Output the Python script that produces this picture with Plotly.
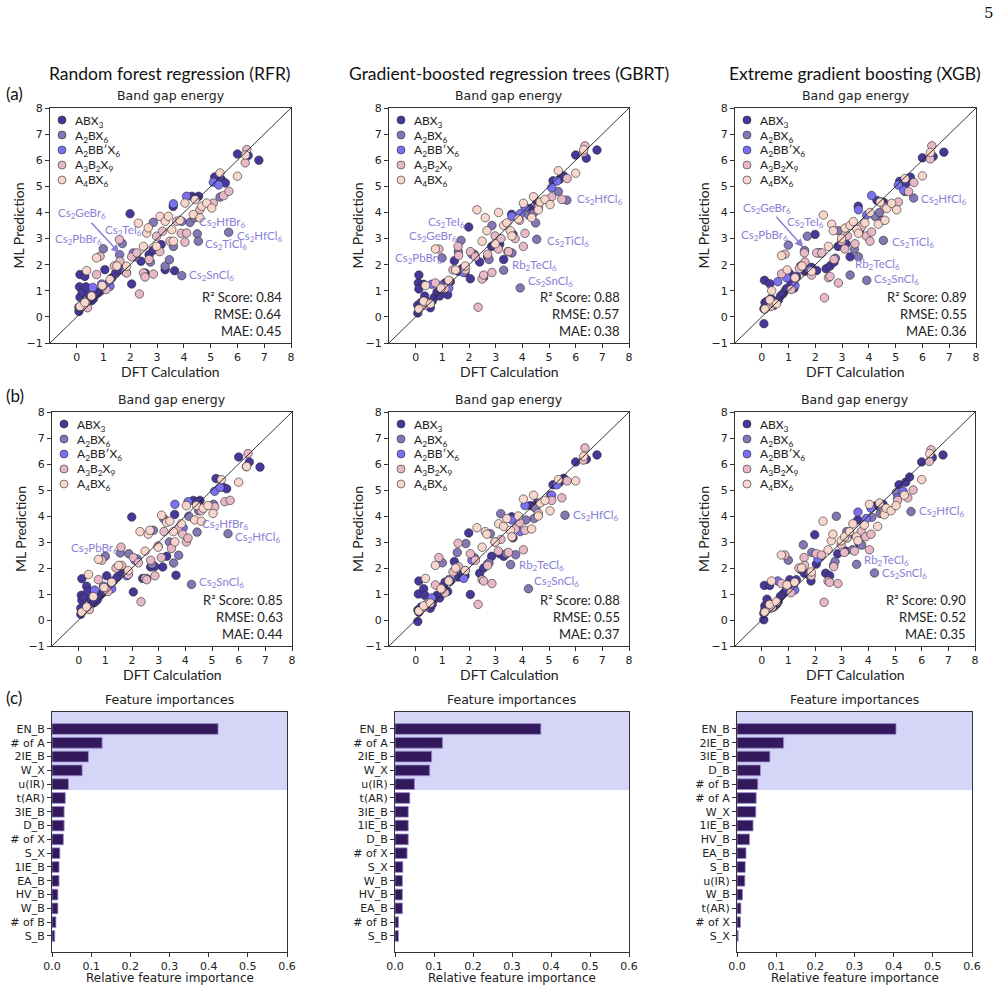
import plotly.graph_objects as go

W, H = 1005, 990

# ---------------- data ----------------
categories = ["ABX<sub>3</sub>", "A<sub>2</sub>BX<sub>6</sub>", "A<sub>2</sub>BB′X<sub>6</sub>",
              "A<sub>3</sub>B<sub>2</sub>X<sub>9</sub>", "A<sub>4</sub>BX<sub>6</sub>"]
cat_colors = ["#48379a", "#8477b6", "#7a70f2", "#e7b9c6", "#f8d6cc"]

model_titles = ["Random forest regression (RFR)", "Gradient-boosted regression trees (GBRT)",
                "Extreme gradient boosting (XGB)"]

# DFT band gaps (shared)
x_abx3 = [0.08, 0.08, 0.10, 0.12, 0.12, 0.20, 0.30, 0.34, 0.45, 0.55, 0.62, 0.70, 0.80, 0.90,
          0.95, 1.05, 1.10, 1.20, 1.30, 1.45, 1.60, 1.75, 1.85, 1.99, 2.05, 2.40, 2.55, 2.70,
          2.85, 3.15, 3.30, 3.65, 4.30, 4.55, 5.15, 5.40, 6.00, 6.80, 3.60, 4.45, 5.55, 6.40]
x_a2bx6_a = [0.99, 1.60, 1.70, 2.86, 3.30, 3.46, 3.61, 3.92, 4.23, 4.50, 4.54, 5.35, 5.67, 2.20, 2.75, 4.40]
x_a2bx6_b = [1.00, 1.56, 1.88, 2.80, 3.19, 3.56, 3.75, 4.23, 4.44, 4.13, 5.06, 5.60, 2.20, 2.75, 4.50, 3.40]
x_a2bbx6 = [0.60, 0.93, 1.24, 1.80, 2.11, 3.61, 3.92, 4.10, 5.10, 5.30]
x_a3b2x9 = [0.34, 0.40, 0.74, 0.87, 1.10, 1.40, 1.59, 1.61, 1.86, 2.05, 2.24, 2.34, 2.49, 2.55,
            2.70, 2.86, 2.98, 3.10, 3.20, 3.48, 3.73, 3.90, 4.04, 4.10, 4.60, 5.10, 5.48, 5.68,
            6.29, 6.35]
x_a4bx6 = [0.12, 0.30, 0.37, 0.55, 0.74, 0.95, 1.24, 1.50, 1.86, 2.30, 2.49, 2.61, 2.67, 2.98,
           3.11, 3.30, 3.42, 3.55, 3.61, 3.85, 4.04, 4.35, 4.42, 4.60, 4.67, 4.85, 5.04, 5.35,
           6.00, 6.30]

# ML predictions, row (a)
y_rfr_a_abx3 = [0.21, 0.37, 1.15, 1.62, 0.75, 0.94, 1.55, 1.15, 0.85, 0.62, 0.69, 0.85, 0.92, 1.00,
                1.11, 1.81, 1.20, 1.30, 1.49, 1.68, 1.81, 1.87, 1.70, 3.95, 1.26, 2.13, 1.68, 2.38,
                2.55, 2.77, 1.81, 1.77, 4.62, 4.62, 5.36, 5.26, 6.24, 6.00, 4.23, 4.55, 5.13, 6.18]
y_rfr_a_a2bx6 = [2.61, 2.38, 2.81, 3.62, 1.94, 2.19, 2.70, 1.58, 3.62, 3.18, 2.90, 4.59, 3.24, 2.30, 2.10, 3.80]
y_rfr_a_a2bbx6 = [1.13, 1.26, 1.17, 1.75, 2.45, 4.33, 3.66, 4.62, 5.16, 5.05]
y_rfr_a_a3b2x9 = [0.53, 0.35, 1.62, 2.32, 1.05, 1.95, 2.96, 2.13, 1.68, 2.30, 2.45, 0.88, 1.68, 1.53,
                  2.20, 1.64, 3.09, 2.50, 3.28, 2.90, 3.66, 3.20, 2.86, 3.21, 4.11, 4.36, 4.64, 4.81,
                  5.90, 6.41]
y_rfr_a_a4bx6 = [0.40, 0.55, 1.77, 0.80, 2.26, 1.20, 1.43, 1.95, 1.94, 3.59, 2.70, 3.21, 3.41, 2.70,
                 3.85, 3.66, 3.85, 3.34, 2.90, 3.70, 4.36, 3.92, 4.49, 3.79, 4.24, 4.36, 4.17, 5.51,
                 5.39, 6.20]

y_gbrt_a_abx3 = [0.15, 0.45, 1.30, 1.60, 1.07, 0.55, 1.25, 0.80, 0.55, 0.35, 0.60, 0.75, 0.95, 0.80,
                 1.05, 1.15, 1.30, 0.85, 1.35, 2.15, 1.75, 1.85, 1.70, 3.44, 1.46, 2.10, 1.52, 2.30,
                 2.70, 2.78, 2.20, 3.16, 4.15, 4.40, 5.21, 5.27, 6.20, 6.39, 3.93, 4.06, 5.40, 6.08]
y_gbrt_a_a2bx6 = [2.26, 2.50, 2.93, 3.50, 1.79, 2.50, 2.45, 1.11, 3.90, 3.60, 2.97, 4.80, 4.47, 2.40, 2.20, 3.95]
y_gbrt_a_a2bbx6 = [1.25, 1.20, 1.10, 1.70, 2.40, 3.85, 3.95, 4.20, 4.95, 5.20]
y_gbrt_a_a3b2x9 = [0.45, 0.55, 1.30, 2.60, 1.10, 1.80, 2.70, 2.35, 1.80, 2.50, 2.30, 0.37, 1.45, 1.60,
                   2.40, 1.70, 3.10, 2.60, 3.00, 2.50, 3.00, 3.70, 2.70, 3.20, 4.20, 4.60, 4.50, 5.30,
                   6.30, 6.55]
y_gbrt_a_a4bx6 = [0.30, 0.60, 1.20, 0.50, 2.60, 1.10, 1.40, 1.80, 1.95, 4.10, 2.90, 3.80, 3.30, 2.80,
                  4.00, 3.50, 3.60, 3.30, 3.10, 3.75, 4.35, 3.80, 4.60, 4.10, 4.40, 4.50, 4.30, 5.60,
                  5.50, 6.40]

y_xgb_a_abx3 = [-0.26, 0.31, 1.40, 0.55, 0.35, 0.60, 1.27, 0.70, 0.45, 0.55, 0.65, 0.80, 0.90, 1.05,
                1.10, 1.65, 1.30, 1.10, 1.55, 1.95, 1.75, 1.80, 1.90, 3.16, 1.78, 1.84, 1.95, 2.10,
                2.70, 2.80, 2.30, 3.31, 4.46, 4.39, 5.19, 5.13, 6.09, 6.31, 4.24, 4.40, 5.35, 6.14]
y_xgb_a_a2bx6 = [2.75, 2.54, 3.09, 3.30, 1.60, 2.60, 2.30, 1.40, 3.85, 3.70, 2.93, 4.80, 4.55, 2.45, 2.25, 4.00]
y_xgb_a_a2bbx6 = [1.35, 1.50, 1.20, 1.80, 2.45, 4.10, 3.90, 4.65, 5.05, 4.85]
y_xgb_a_a3b2x9 = [0.40, 0.55, 1.65, 2.40, 1.05, 1.85, 2.45, 2.10, 1.60, 2.45, 2.45, 0.73, 1.50, 1.55,
                  2.20, 1.30, 2.90, 2.60, 3.10, 2.80, 3.45, 3.10, 2.90, 3.25, 4.20, 4.40, 4.80, 5.15,
                  6.05, 6.55]
y_xgb_a_a4bx6 = [0.30, 0.65, 1.00, 0.50, 2.35, 1.80, 1.50, 1.95, 1.75, 3.90, 2.70, 3.55, 3.30, 3.00,
                 3.40, 3.50, 3.65, 3.35, 3.20, 3.60, 4.00, 3.55, 4.40, 3.70, 4.15, 4.35, 4.10, 5.30,
                 5.40, 6.30]

# ML predictions, row (b)
y_rfr_b_abx3 = [0.22, 0.45, 0.95, 1.59, 0.76, 0.85, 1.30, 1.10, 0.80, 0.65, 0.70, 0.78, 0.95, 1.05,
                1.10, 1.70, 1.25, 1.35, 1.50, 1.65, 1.85, 1.80, 1.75, 3.96, 1.08, 1.60, 1.59, 2.04,
                2.06, 2.04, 2.45, 1.72, 4.60, 4.60, 5.44, 5.12, 6.27, 5.88, 4.06, 4.55, 5.05, 6.08]
y_rfr_b_a2bx6 = [2.45, 2.58, 2.55, 3.45, 3.90, 2.19, 2.49, 1.37, 3.38, 3.99, 4.45, 3.32, 2.35, 2.15, 4.20, 3.00]
y_rfr_b_a2bbx6 = [1.15, 1.30, 1.20, 1.70, 2.30, 4.45, 3.55, 4.55, 4.95, 5.10]
y_rfr_b_a3b2x9 = [0.45, 0.40, 1.55, 2.30, 1.10, 2.00, 2.80, 2.10, 1.75, 2.40, 2.20, 0.70, 1.60, 1.55,
                  2.30, 1.70, 2.85, 2.40, 3.40, 2.75, 3.50, 3.30, 3.00, 3.15, 4.20, 4.35, 4.55, 4.60,
                  5.90, 6.40]
y_rfr_b_a4bx6 = [0.30, 0.50, 1.75, 0.90, 2.33, 1.25, 1.45, 2.10, 1.90, 3.40, 2.65, 3.30, 3.45, 2.80,
                 4.03, 3.75, 3.80, 3.40, 3.00, 3.70, 4.40, 3.85, 4.40, 3.80, 4.30, 4.40, 4.10, 5.40,
                 5.30, 5.90]

y_gbrt_b_abx3 = [-0.06, 0.38, 1.00, 1.50, 0.30, 0.50, 1.20, 0.95, 0.55, 0.45, 0.60, 0.80, 0.95, 0.85,
                 1.00, 1.30, 1.45, 1.10, 1.50, 2.25, 1.65, 1.75, 1.70, 3.35, 0.98, 1.80, 2.00, 2.15,
                 2.45, 2.55, 2.45, 3.16, 4.40, 4.50, 5.20, 5.30, 6.08, 6.35, 3.97, 4.35, 5.45, 6.18]
y_gbrt_b_a2bx6 = [2.20, 2.60, 2.94, 3.32, 4.09, 2.13, 2.51, 1.20, 3.90, 3.85, 4.80, 4.03, 2.40, 2.20, 4.30, 2.55]
y_gbrt_b_a2bbx6 = [0.85, 1.25, 1.55, 1.60, 2.30, 3.85, 3.40, 4.40, 4.80, 5.20]
y_gbrt_b_a3b2x9 = [0.50, 0.60, 1.35, 2.40, 1.05, 1.85, 2.95, 2.05, 1.90, 2.55, 2.30, 0.60, 1.55, 1.50,
                   2.10, 1.40, 3.00, 2.65, 3.10, 2.60, 3.50, 3.75, 2.70, 3.45, 4.10, 4.60, 4.70, 5.35,
                   6.15, 6.62]
y_gbrt_b_a4bx6 = [0.35, 0.55, 1.60, 0.65, 2.10, 1.20, 1.50, 2.00, 1.90, 3.55, 2.80, 3.40, 3.30, 3.00,
                  3.70, 3.60, 3.90, 3.45, 3.20, 4.00, 4.65, 3.50, 4.80, 4.00, 4.50, 4.60, 4.20, 5.40,
                  5.35, 6.30]

y_xgb_b_abx3 = [0.01, 0.26, 1.33, 0.55, 0.40, 0.80, 1.33, 0.60, 0.50, 0.60, 0.70, 0.90, 1.00, 1.10,
                1.15, 1.55, 1.40, 1.20, 1.55, 1.95, 1.80, 1.75, 1.50, 3.28, 2.15, 1.80, 1.70, 2.10,
                2.55, 2.65, 3.30, 2.95, 4.40, 4.45, 5.20, 5.30, 6.08, 6.35, 3.85, 4.40, 5.50, 6.25]
y_xgb_b_a2bx6 = [2.30, 2.89, 2.60, 3.99, 3.40, 2.14, 2.88, 1.81, 4.10, 3.95, 4.90, 4.17, 2.45, 2.25, 4.35, 2.70]
y_xgb_b_a2bbx6 = [1.50, 1.30, 1.15, 1.80, 2.35, 4.15, 3.90, 4.30, 4.70, 4.95]
y_xgb_b_a3b2x9 = [0.45, 0.50, 1.40, 2.50, 1.05, 2.00, 2.40, 2.10, 1.70, 2.55, 2.50, 0.68, 1.50, 1.45,
                  2.05, 1.40, 2.90, 2.60, 3.15, 2.65, 3.40, 3.20, 2.70, 3.30, 4.15, 4.60, 4.70, 5.00,
                  6.10, 6.55]
y_xgb_b_a4bx6 = [0.30, 0.60, 1.50, 0.70, 2.50, 1.35, 1.45, 2.00, 1.85, 3.80, 2.70, 3.05, 3.30, 3.05,
                 3.20, 3.40, 3.70, 3.20, 3.05, 3.65, 4.45, 3.60, 4.50, 4.05, 4.30, 4.20, 4.40, 4.80,
                 5.40, 6.40]

# metrics (R2, RMSE, MAE)
metrics_rfr_a = ["0.84", "0.64", "0.45"]
metrics_gbrt_a = ["0.88", "0.57", "0.38"]
metrics_xgb_a = ["0.89", "0.55", "0.36"]
metrics_rfr_b = ["0.85", "0.63", "0.44"]
metrics_gbrt_b = ["0.88", "0.55", "0.37"]
metrics_xgb_b = ["0.90", "0.52", "0.35"]

# outlier labels: (text, x, y) left-anchored
labels_rfr_a = [("Cs<sub>2</sub>GeBr<sub>6</sub>", -0.78, 3.95), ("Cs<sub>2</sub>TeI<sub>6</sub>", 0.97, 3.32),
                ("Cs<sub>2</sub>PbBr<sub>6</sub>", -0.88, 2.98), ("Cs<sub>2</sub>HfBr<sub>6</sub>", 4.48, 3.62),
                ("Cs<sub>2</sub>HfCl<sub>6</sub>", 5.89, 3.09), ("Cs<sub>2</sub>TiCl<sub>6</sub>", 4.73, 2.78),
                ("Cs<sub>2</sub>SnCl<sub>6</sub>", 4.11, 1.58)]
labels_gbrt_a = [("Cs<sub>2</sub>HfCl<sub>6</sub>", 5.99, 4.48), ("Cs<sub>2</sub>TeI<sub>6</sub>", 0.40, 3.60),
                 ("Cs<sub>2</sub>GeBr<sub>6</sub>", -0.33, 3.07), ("Cs<sub>2</sub>PbBr<sub>6</sub>", -0.85, 2.23),
                 ("Cs<sub>2</sub>TiCl<sub>6</sub>", 4.84, 2.90), ("Rb<sub>2</sub>TeCl<sub>6</sub>", 3.53, 1.96),
                 ("Cs<sub>2</sub>SnCl<sub>6</sub>", 4.13, 1.34)]
labels_xgb_a = [("Cs<sub>2</sub>GeBr<sub>6</sub>", -0.78, 4.14), ("Cs<sub>2</sub>TeI<sub>6</sub>", 0.87, 3.60),
                ("Cs<sub>2</sub>PbBr<sub>6</sub>", -0.85, 3.12), ("Cs<sub>2</sub>HfCl<sub>6</sub>", 5.87, 4.48),
                ("Cs<sub>2</sub>TiCl<sub>6</sub>", 4.77, 2.86), ("Rb<sub>2</sub>TeCl<sub>6</sub>", 3.42, 1.99),
                ("Cs<sub>2</sub>SnCl<sub>6</sub>", 4.13, 1.44)]
labels_rfr_b = [("Cs<sub>2</sub>HfBr<sub>6</sub>", 4.56, 3.68), ("Cs<sub>2</sub>HfCl<sub>6</sub>", 5.78, 3.17),
                ("Cs<sub>2</sub>PbBr<sub>6</sub>", -0.38, 2.74), ("Cs<sub>2</sub>SnCl<sub>6</sub>", 4.44, 1.46)]
labels_gbrt_b = [("Cs<sub>2</sub>HfCl<sub>6</sub>", 5.84, 4.03), ("Rb<sub>2</sub>TeCl<sub>6</sub>", 3.80, 2.10),
                 ("Cs<sub>2</sub>SnCl<sub>6</sub>", 4.38, 1.49)]
labels_xgb_b = [("Cs<sub>2</sub>HfCl<sub>6</sub>", 5.81, 4.19), ("Rb<sub>2</sub>TeCl<sub>6</sub>", 3.77, 2.29),
                ("Cs<sub>2</sub>SnCl<sub>6</sub>", 4.45, 1.78)]
# arrows (tail x, tail y, head x, head y)
arrow_rfr_a = (0.49, 3.66, 1.59, 2.45)
arrow_xgb_a = (0.49, 3.89, 1.55, 2.67)

# feature importances
feat_rfr = ["EN_B", "# of A", "2IE_B", "W_X", "u(IR)", "t(AR)", "3IE_B", "D_B", "# of X", "S_X",
            "1IE_B", "EA_B", "HV_B", "W_B", "# of B", "S_B"]
imp_rfr = [0.424, 0.128, 0.093, 0.077, 0.042, 0.034, 0.031, 0.031, 0.029, 0.020, 0.018, 0.018,
           0.015, 0.015, 0.010, 0.007]
feat_gbrt = ["EN_B", "# of A", "2IE_B", "W_X", "u(IR)", "t(AR)", "3IE_B", "1IE_B", "D_B", "# of X",
             "S_X", "W_B", "HV_B", "EA_B", "# of B", "S_B"]
imp_gbrt = [0.374, 0.122, 0.094, 0.089, 0.050, 0.038, 0.034, 0.034, 0.034, 0.031, 0.020, 0.019,
            0.019, 0.019, 0.009, 0.009]
feat_xgb = ["EN_B", "2IE_B", "3IE_B", "D_B", "# of B", "# of A", "W_X", "1IE_B", "HV_B", "EA_B",
            "S_B", "u(IR)", "W_B", "t(AR)", "# of X", "S_X"]
imp_xgb = [0.406, 0.119, 0.084, 0.060, 0.053, 0.049, 0.048, 0.041, 0.032, 0.023, 0.021, 0.020,
           0.014, 0.010, 0.009, 0.003]

# ---------------- layout helpers ----------------
def dy(py0, py1):  # py0 top, py1 bottom in pixels
    return [1 - py1 / H, 1 - py0 / H]

def px_x(p):
    return p / W

def px_y(p):
    return 1 - p / H

scatter_panels = [
    (1, (50, 291), (108, 343), [y_rfr_a_abx3, y_rfr_a_a2bx6, y_rfr_a_a2bbx6, y_rfr_a_a3b2x9, y_rfr_a_a4bx6],
     x_a2bx6_a, metrics_rfr_a, labels_rfr_a, arrow_rfr_a),
    (2, (389, 629), (108, 343), [y_gbrt_a_abx3, y_gbrt_a_a2bx6, y_gbrt_a_a2bbx6, y_gbrt_a_a3b2x9, y_gbrt_a_a4bx6],
     x_a2bx6_a, metrics_gbrt_a, labels_gbrt_a, None),
    (3, (735, 976), (108, 343), [y_xgb_a_abx3, y_xgb_a_a2bx6, y_xgb_a_a2bbx6, y_xgb_a_a3b2x9, y_xgb_a_a4bx6],
     x_a2bx6_a, metrics_xgb_a, labels_xgb_a, arrow_xgb_a),
    (4, (52, 292), (412, 646), [y_rfr_b_abx3, y_rfr_b_a2bx6, y_rfr_b_a2bbx6, y_rfr_b_a3b2x9, y_rfr_b_a4bx6],
     x_a2bx6_b, metrics_rfr_b, labels_rfr_b, None),
    (5, (389, 629), (412, 646), [y_gbrt_b_abx3, y_gbrt_b_a2bx6, y_gbrt_b_a2bbx6, y_gbrt_b_a3b2x9, y_gbrt_b_a4bx6],
     x_a2bx6_b, metrics_gbrt_b, labels_gbrt_b, None),
    (6, (735, 975), (412, 646), [y_xgb_b_abx3, y_xgb_b_a2bx6, y_xgb_b_a2bbx6, y_xgb_b_a3b2x9, y_xgb_b_a4bx6],
     x_a2bx6_b, metrics_xgb_b, labels_xgb_b, None),
]

bar_panels = [
    (7, (52, 287), (712, 952), feat_rfr, imp_rfr),
    (8, (395, 629), (712, 952), feat_gbrt, imp_gbrt),
    (9, (737, 972), (712, 952), feat_xgb, imp_xgb),
]

TICK_FONT = dict(family="DejaVu Sans", size=11, color="#222")
LATO = "Lato"
LABEL_COLOR = "#8a80d6"
AXIS_COLOR = "#333"

fig = go.Figure()
annotations = []
shapes = []
layout_axes = {}

def axname(n, letter):
    return f"{letter}axis" if n == 1 else f"{letter}axis{n}"

def axref(n, letter):
    return letter if n == 1 else f"{letter}{n}"

def text_ann(text, x, y, xa="center", ya="middle", font=None, angle=0, xref="paper", yref="paper"):
    return dict(text=text, xref=xref, yref=yref, x=x, y=y, xanchor=xa, yanchor=ya,
                showarrow=False, textangle=angle, font=font)

for (n, xd, yd, ys, xa2, met, labs, arrow) in scatter_panels:
    xr, yr = axref(n, "x"), axref(n, "y")
    xs = [x_abx3, xa2, x_a2bbx6, x_a3b2x9, x_a4bx6]
    for ci in range(5):
        fig.add_trace(go.Scatter(
            x=xs[ci], y=ys[ci], mode="markers", name=categories[ci],
            marker=dict(size=8.5, color=cat_colors[ci], line=dict(color="#2a2a2a", width=0.6)),
            xaxis=xr, yaxis=yr, showlegend=False))
    # diagonal y = x
    shapes.append(dict(type="line", xref=xr, yref=yr, x0=-1, y0=-1, x1=8, y1=8,
                       line=dict(color="#222", width=0.9), layer="above"))
    layout_axes[axname(n, "x")] = dict(
        domain=[xd[0] / W, xd[1] / W], anchor=yr, range=[-1, 8], tickvals=list(range(0, 9)),
        showline=True, mirror=True, linecolor=AXIS_COLOR, linewidth=1.2, ticks="outside", ticklen=4,
        tickcolor=AXIS_COLOR, showgrid=False, zeroline=False, tickfont=TICK_FONT, automargin=False)
    layout_axes[axname(n, "y")] = dict(
        domain=dy(*yd), anchor=xr, range=[-1, 8], tickvals=list(range(-1, 9)),
        showline=True, mirror=True, linecolor=AXIS_COLOR, linewidth=1.2, ticks="outside", ticklen=4,
        tickcolor=AXIS_COLOR, showgrid=False, zeroline=False, tickfont=TICK_FONT, automargin=False)
    cx = (xd[0] + xd[1]) / 2
    cy = (yd[0] + yd[1]) / 2
    # axis titles
    annotations.append(text_ann("DFT Calculation", px_x(cx), px_y(yd[1] + 28),
                                font=dict(family=LATO, size=14, color="#222")))
    annotations.append(text_ann("ML Prediction", px_x(xd[0] - 32), px_y(cy), angle=-90,
                                font=dict(family=LATO, size=14, color="#222")))
    # subplot title
    annotations.append(text_ann("Band gap energy", px_x(cx), px_y(yd[0] - 3), ya="bottom",
                                font=dict(family="DejaVu Sans", size=12.5, color="#222")))
    # legend (drawn as markers + labels inside the axes)
    for ci in range(5):
        ly = yd[0] + 12 + 15 * ci
        lx = xd[0] + 12
        shapes.append(dict(type="circle", xref="paper", yref="paper",
                           xsizemode="pixel", ysizemode="pixel",
                           xanchor=px_x(lx), yanchor=px_y(ly), x0=-4, x1=4, y0=-4, y1=4,
                           fillcolor=cat_colors[ci], line=dict(color="#2a2a2a", width=0.6),
                           layer="above"))
        annotations.append(text_ann(categories[ci], px_x(lx + 11), px_y(ly + 1), xa="left",
                                    font=dict(family=LATO, size=12, color="#222")))
    # metrics
    for k, (lab, val) in enumerate(zip(["R² Score", "RMSE", "MAE"], met)):
        annotations.append(text_ann(f"{lab}: {val}", 7.75, 0.76 - 0.645 * k, xa="right",
                                    xref=xr, yref=yr, font=dict(family=LATO, size=13, color="#222")))
    for (t, lx, ly) in labs:
        annotations.append(text_ann(t, lx, ly, xa="left", xref=xr, yref=yr,
                                    font=dict(family=LATO, size=11.5, color=LABEL_COLOR)))
    if arrow is not None:
        annotations.append(dict(text="", xref=xr, yref=yr, x=arrow[2], y=arrow[3],
                                axref=xr, ayref=yr, ax=arrow[0], ay=arrow[1], showarrow=True,
                                arrowhead=2, arrowsize=1.1, arrowwidth=1.5, arrowcolor=LABEL_COLOR))

for (n, xd, yd, feats, vals) in bar_panels:
    xr, yr = axref(n, "x"), axref(n, "y")
    # highlighted top-5 region
    shapes.append(dict(type="rect", xref=xr, yref=yr, x0=0, x1=0.6, y0=-1.23, y1=4.42,
                       fillcolor="#d5d5f8", line=dict(width=0), layer="below"))
    fig.add_trace(go.Bar(x=vals, y=feats, orientation="h", width=0.78,
                         marker=dict(color="#33195b", line=dict(color="#9a8fd3", width=0.8)),
                         xaxis=xr, yaxis=yr, showlegend=False))
    layout_axes[axname(n, "x")] = dict(
        domain=[xd[0] / W, xd[1] / W], anchor=yr, range=[0, 0.6],
        tickvals=[0, 0.1, 0.2, 0.3, 0.4, 0.5, 0.6], tickformat=".1f",
        showline=True, mirror=True, linecolor=AXIS_COLOR, linewidth=1.2, ticks="outside", ticklen=4,
        tickcolor=AXIS_COLOR, showgrid=False, zeroline=False, tickfont=TICK_FONT, automargin=False)
    layout_axes[axname(n, "y")] = dict(
        domain=dy(*yd), anchor=xr, type="category", categoryorder="array", categoryarray=feats,
        range=[16.16, -1.23], showline=True, mirror=True, linecolor=AXIS_COLOR, linewidth=1.2,
        ticks="outside", ticklen=4, tickcolor=AXIS_COLOR, showgrid=False, zeroline=False,
        tickfont=TICK_FONT, automargin=False)
    cx = (xd[0] + xd[1]) / 2
    annotations.append(text_ann("Feature importances", px_x(cx), px_y(yd[0] - 3), ya="bottom",
                                font=dict(family="DejaVu Sans", size=12.5, color="#222")))
    annotations.append(text_ann("Relative feature importance", px_x(cx), px_y(yd[1] + 26),
                                font=dict(family="DejaVu Sans", size=12, color="#222")))

# column titles
for t, cx in zip(model_titles, [170, 509, 855]):
    annotations.append(text_ann(t, px_x(cx), px_y(73), font=dict(family=LATO, size=17.5, color="#111")))
# panel letters
for t, py in [("(a)", 93), ("(b)", 395), ("(c)", 697)]:
    annotations.append(text_ann(t, px_x(4), px_y(py), xa="left", font=dict(family=LATO, size=17, color="#111")))
# page number
annotations.append(text_ann("5", px_x(996), px_y(13), xa="right",
                            font=dict(family="DejaVu Serif", size=15, color="#111")))

fig.update_layout(
    width=W, height=H, margin=dict(l=0, r=0, t=0, b=0, autoexpand=False),
    paper_bgcolor="white", plot_bgcolor="white", showlegend=False,
    annotations=annotations, shapes=shapes, bargap=0.2,
    **layout_axes)

fig.write_html("out.html")
